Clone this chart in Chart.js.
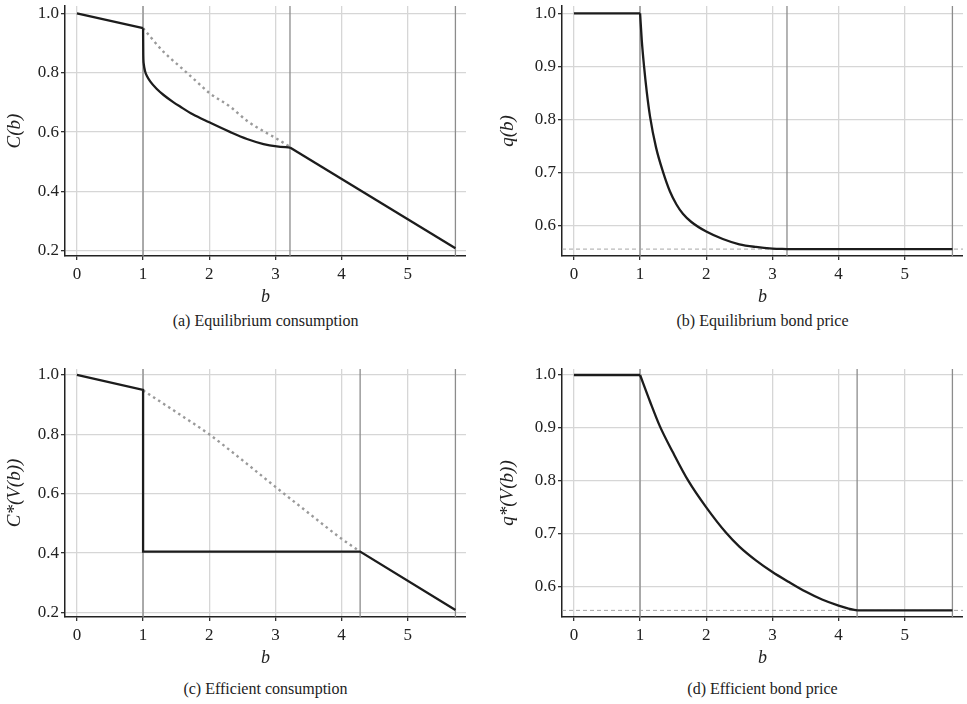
<!DOCTYPE html>
<html>
<head>
<meta charset="utf-8">
<script src="https://cdn.jsdelivr.net/npm/chart.js@4.4.1/dist/chart.umd.min.js"></script>
<style>
    body { margin: 0; background: #fff; width: 967px; height: 704px; position: relative; overflow: hidden; font-family: "Liberation Serif", "DejaVu Serif", serif; }
    .box { position: absolute; }
    .cap { position: absolute; font-size: 16px; line-height: 20px; color: #222; text-align: center; }
</style>
</head>
<body>
<div class="box" style="left:0;top:0"><canvas id="chartA" width="466" height="308"></canvas></div>
<div class="box" style="left:480px;top:0"><canvas id="chartB" width="483" height="308"></canvas></div>
<div class="box" style="left:0;top:363px"><canvas id="chartC" width="466" height="306"></canvas></div>
<div class="box" style="left:480px;top:363px"><canvas id="chartD" width="483" height="306"></canvas></div>

<div class="cap" style="left:65px;width:401px;top:311px">(a) Equilibrium consumption</div>
<div class="cap" style="left:562px;width:401px;top:311px">(b) Equilibrium bond price</div>
<div class="cap" style="left:65px;width:401px;top:679px">(c) Efficient consumption</div>
<div class="cap" style="left:562px;width:401px;top:679px">(d) Efficient bond price</div>

<script>
// x ticks shared by all four panels
const bTicks = [0, 1, 2, 3, 4, 5];
const consTicks = [0.2, 0.4, 0.6, 0.8, 1.0];
const priceTicks = [0.6, 0.7, 0.8, 0.9, 1.0];

// (a) equilibrium consumption: straight part, curved part, straight part
const aLeftB = [0, 1];
const aLeftC = [1.0, 0.95];
const aCurveB = [1, 1.003, 1.01, 1.03, 1.06, 1.11, 1.2, 1.31, 1.45, 1.56, 1.75, 2.0, 2.32, 2.57, 2.82, 3.02, 3.22];
const aCurveC = [0.95, 0.86, 0.83, 0.805, 0.788, 0.77, 0.747, 0.725, 0.702, 0.686, 0.66, 0.633, 0.6, 0.577, 0.56, 0.552, 0.548];
const aRightB = [3.22, 5.72];
const aRightC = [0.548, 0.209];
const aDotB = [1, 1.31, 1.56, 1.81, 2.0, 2.32, 2.57, 2.82, 3.02, 3.22];
const aDotC = [0.95, 0.87, 0.82, 0.77, 0.732, 0.685, 0.638, 0.603, 0.578, 0.55];
const aMarks = [1, 3.22, 5.72];

// (b) equilibrium bond price
const bFlatB = [0, 1];
const bFlatQ = [1, 1];
const bCurveB = [1, 1.025, 1.06, 1.10, 1.15, 1.24, 1.35, 1.45, 1.55, 1.65, 1.775, 2.0, 2.25, 2.5, 2.75, 3.0, 3.22];
const bCurveQ = [1, 0.95, 0.9, 0.853, 0.806, 0.748, 0.7, 0.665, 0.64, 0.622, 0.607, 0.589, 0.575, 0.565, 0.56, 0.557, 0.556];
const bTailB = [3.22, 5.72];
const bTailQ = [0.556, 0.556];
const bFloor = 0.556;
const bMarks = [1, 3.22, 5.72];

// (c) efficient consumption
const cSolidB = [0, 1, 1, 4.28, 5.72];
const cSolidC = [1.0, 0.95, 0.405, 0.405, 0.208];
const cDotB = [1, 1.5, 2, 2.5, 3, 3.5, 4, 4.28];
const cDotC = [0.948, 0.875, 0.8, 0.713, 0.623, 0.535, 0.448, 0.405];
const cMarks = [1, 4.28, 5.72];

// (d) efficient bond price
const dFlatB = [0, 1];
const dFlatQ = [1, 1];
const dCurveB = [1, 1.15, 1.3, 1.5, 1.73, 2.0, 2.3, 2.5, 2.75, 3.0, 3.25, 3.5, 3.75, 4.0, 4.15, 4.28];
const dCurveQ = [1, 0.95, 0.903, 0.853, 0.8, 0.75, 0.702, 0.676, 0.65, 0.628, 0.609, 0.591, 0.576, 0.5645, 0.559, 0.5555];
const dTailB = [4.28, 5.72];
const dTailQ = [0.5555, 0.5555];
const dFloor = 0.5555;
const dMarks = [1, 4.28, 5.72];

const X_MIN = -0.18, X_MAX = 5.88;
const serif = '"Liberation Serif", "DejaVu Serif", serif';

function toPoints(xs, ys) {
    return xs.map((x, i) => ({x: x, y: ys[i]}));
}

function panelChart(id, cfg) {
    let datasets = [];
    cfg.solid.forEach(seg => {
        datasets.push({
            data: toPoints(seg[0], seg[1]),
            borderColor: '#1c1c1c',
            borderWidth: 2.3,
            cubicInterpolationMode: seg[2] ? 'monotone' : 'default',
            tension: 0
        });
    });
    if (cfg.dotX) {
        datasets.push({
            data: toPoints(cfg.dotX, cfg.dotY),
            borderColor: '#9a9a9a',
            borderWidth: 2.4,
            borderDash: [2.5, 3.5],
            cubicInterpolationMode: 'monotone'
        });
    }
    if (cfg.floor) {
        datasets.push({
            data: [{x: X_MIN, y: cfg.floor}, {x: X_MAX, y: cfg.floor}],
            borderColor: '#a6a6a6',
            borderWidth: 1,
            borderDash: [4, 3]
        });
    }
    cfg.marks.forEach(v => {
        datasets.push({
            data: [{x: v, y: cfg.yMin}, {x: v, y: cfg.yMax}],
            borderColor: '#8c8c8c',
            borderWidth: 1.3
        });
    });
    datasets.forEach(d => {
        d.showLine = true;
        d.pointRadius = 0;
        d.fill = false;
    });

    const config = {
        type: 'scatter',
        data: {datasets: datasets},
        options: {
            responsive: false,
            animation: false,
            layout: {padding: {top: 6, left: 0, right: 0, bottom: 0}},
            plugins: {legend: {display: false}, tooltip: {enabled: false}},
            scales: {
                x: {
                    type: 'linear',
                    min: X_MIN,
                    max: X_MAX,
                    afterBuildTicks: s => { s.ticks = bTicks.map(v => ({value: v})); },
                    afterFit: s => { s.height = 52; s.paddingLeft = 0; s.paddingRight = 0; },
                    ticks: {
                        color: '#222',
                        font: {family: serif, size: 17},
                        padding: 4,
                        callback: v => String(v)
                    },
                    grid: {color: '#d6d6d6', lineWidth: 1.3, tickColor: '#333', tickLength: 4},
                    border: {color: '#222', width: 1.5},
                    title: {
                        display: true,
                        text: 'b',
                        color: '#222',
                        font: {family: serif, size: 18, style: 'italic'},
                        padding: {top: 0, bottom: 0}
                    }
                },
                y: {
                    min: cfg.yMin,
                    max: cfg.yMax,
                    afterBuildTicks: s => { s.ticks = cfg.yTicks.map(v => ({value: v})); },
                    afterFit: s => { s.width = cfg.yWidth; s.paddingTop = 0; s.paddingBottom = 0; },
                    ticks: {
                        color: '#222',
                        font: {family: serif, size: 17},
                        padding: 2,
                        callback: v => Number(v).toFixed(1)
                    },
                    grid: {color: '#d6d6d6', lineWidth: 1.3, tickColor: '#333', tickLength: 4},
                    border: {color: '#222', width: 1.5},
                    title: {
                        display: true,
                        text: cfg.yLabel,
                        color: '#222',
                        font: {family: serif, size: 19, style: 'italic'},
                        padding: {top: cfg.titlePad, bottom: 0}
                    }
                }
            }
        }
    };

    let ctx = document.getElementById(id).getContext("2d");
    new Chart(ctx, config);
}

panelChart('chartA', {
    solid: [[aLeftB, aLeftC, false], [aCurveB, aCurveC, true], [aRightB, aRightC, false]],
    dotX: aDotB, dotY: aDotC, marks: aMarks,
    yMin: 0.183, yMax: 1.0246, yTicks: consTicks, yWidth: 65, yLabel: 'C(b)', titlePad: 4
});
panelChart('chartB', {
    solid: [[bFlatB, bFlatQ, false], [bCurveB, bCurveQ, true], [bTailB, bTailQ, false]],
    floor: bFloor, marks: bMarks,
    yMin: 0.543, yMax: 1.0137, yTicks: priceTicks, yWidth: 82, yLabel: 'q(b)', titlePad: 17
});
panelChart('chartC', {
    solid: [[cSolidB, cSolidC, false]],
    dotX: cDotB, dotY: cDotC, marks: cMarks,
    yMin: 0.1845, yMax: 1.0202, yTicks: consTicks, yWidth: 65, yLabel: 'C*(V(b))', titlePad: 4
});
panelChart('chartD', {
    solid: [[dFlatB, dFlatQ, false], [dCurveB, dCurveQ, true], [dTailB, dTailQ, false]],
    floor: dFloor, marks: dMarks,
    yMin: 0.543, yMax: 1.0113, yTicks: priceTicks, yWidth: 82, yLabel: 'q*(V(b))', titlePad: 17
});
</script>
</body>
</html>
